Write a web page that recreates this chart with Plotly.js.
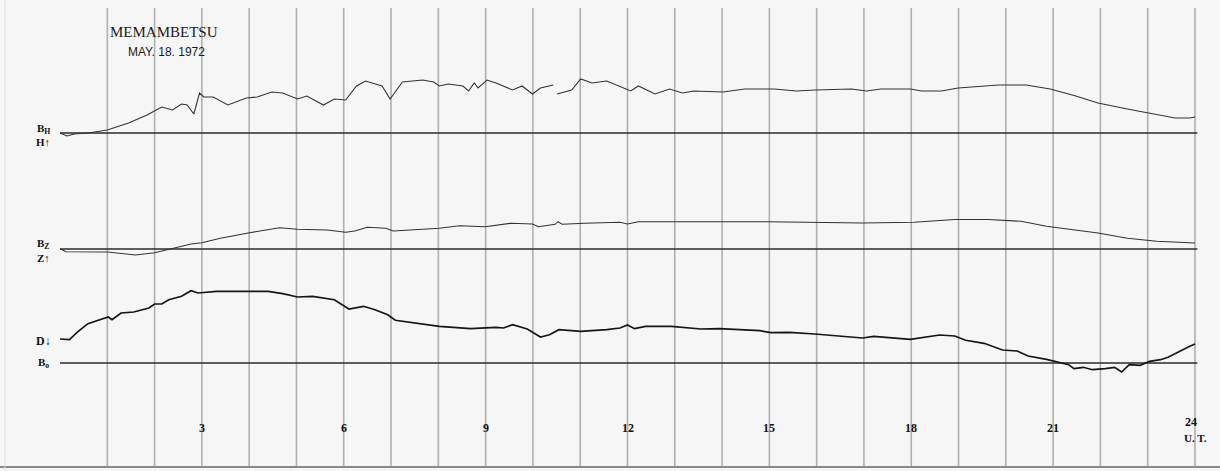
<!DOCTYPE html>
<html><head><meta charset="utf-8">
<script src="https://cdn.plot.ly/plotly-3.0.1.min.js"></script>
<style>html,body{margin:0;padding:0;background:#f6f6f6;}</style>
</head><body>
<div id="chart" style="width:1220px;height:471px"></div>
<script>
// Magnetogram, Memambetsu, 1972-05-18. Values are trace deflections above each baseline (chart mm-ish units) vs UT hour.
const hoursH = [0.0,0.15,0.3,0.6,1.0,1.45,1.84,2.0,2.15,2.38,2.57,2.69,2.83,2.95,3.04,3.24,3.55,3.94,4.17,4.48,4.71,5.02,5.22,5.57,5.8,6.04,6.27,6.46,6.81,6.98,7.24,7.67,7.9,8.02,8.21,8.52,8.64,8.76,8.84,9.03,9.22,9.57,9.77,9.99,10.16,10.43,10.47,10.51,10.82,11.01,11.25,11.56,11.87,12.07,12.23,12.58,12.89,13.16,13.4,14.02,14.48,15.1,15.57,15.96,16.74,17.05,17.36,17.98,18.22,18.64,18.99,19.46,19.85,20.43,20.94,21.48,21.95,22.57,23.04,23.58,23.89,24.0];
const valuesH = [0,-3,-1,0,3,10,18,22,26,23,29,28,19,40,36,36,28,35,36,41,40,34,37,28,34,33,47,52,47,34,51,53,51,47,49,47,42,50,45,53,50,43,47,39,45,48,null,39,43,54,50,52,46,42,47,39,44,40,42,41,44,44,42,43,44,42,44,44,42,42,45,47,48,48,44,37,30,24,20,15,15,16];

const hoursZ = [0.0,0.12,1.0,1.6,2.0,2.46,2.77,3.0,3.39,4.01,4.64,5.02,5.65,6.04,6.23,6.5,6.89,7.05,7.67,8.02,8.45,8.99,9.53,9.99,10.12,10.47,10.53,10.62,11.09,11.84,12.0,12.23,13.0,14.95,16.97,18.06,18.92,19.62,20.32,20.86,21.95,22.57,23.19,23.89,24.0];
const valuesZ = [0.5,-2.7,-3,-6,-3.7,1.3,5,6.3,10.7,16.3,21.3,19.7,19,16.7,18,21.7,20.7,18,20,20.7,23.3,22.3,25.7,25,22.3,24.7,27.3,24.7,25.7,26.7,25,27.3,27.3,27.3,26,26.7,29.5,29.5,27.7,22.7,16,10.7,7.7,6,6];

const hoursD = [0.0,0.2,0.36,0.59,1.02,1.1,1.29,1.56,1.88,2.0,2.15,2.3,2.57,2.77,2.92,3.08,3.31,4.01,4.4,4.71,5.02,5.34,5.8,6.11,6.42,6.66,6.93,7.09,7.43,8.02,8.68,9.22,9.38,9.57,9.88,10.16,10.35,10.55,11.01,11.56,11.84,12.0,12.15,12.38,12.93,13.55,13.94,14.8,15.03,15.42,15.96,16.97,17.21,17.98,18.6,18.92,19.15,19.54,19.93,20.24,20.47,20.86,21.33,21.44,21.64,21.83,22.1,22.3,22.45,22.61,22.84,23.04,23.27,23.43,23.89,24.0];
const valuesD = [24,23.3,30.7,39.3,46,43.3,50,51,55,59,59,63.3,66.7,72.3,70,71,71.7,71.7,71.7,69.3,66,66.7,63.3,54,56.7,53.3,48.3,42.7,40.7,36.7,34.3,35.7,35,38.3,34,26,28.3,33.3,31.7,33.3,35,38,34.3,36.7,36.7,34,34.3,32.3,30.3,30.7,29,25,26.7,23.7,28,27,22.7,19.7,13,12,7,3.7,-1.7,-5.7,-4.3,-6.7,-5.7,-4.3,-9,-1.7,-2.3,1.7,3.3,5.7,16.7,19];

const gridHours = [1,2,3,4,5,6,7,8,9,10,11,12,13,14,15,16,17,18,19,20,21,22,23,24];
const tickHours = [3,6,9,12,15,18,21,24];
const tickLabels = ['3','6','9','12','15','18','21','24'];

// layout geometry (pixel positions on the sheet)
const BASE = {H:133, Z:249, D:363};
const lineCol = '#2a2a2a';

function place(vals, base){ return vals.map(v => v === null ? null : base - v); }

const traces = [
  {x: hoursH, y: place(valuesH, BASE.H), mode:'lines', line:{color:'#333', width:1.1}, hoverinfo:'skip', connectgaps:false},
  {x: hoursZ, y: place(valuesZ, BASE.Z), mode:'lines', line:{color:'#333', width:1.1}, hoverinfo:'skip'},
  {x: hoursD, y: place(valuesD, BASE.D), mode:'lines', line:{color:'#151515', width:1.7}, hoverinfo:'skip'}
];

const shapes = [];
gridHours.forEach(h => shapes.push({type:'line', xref:'x', yref:'y', x0:h, x1:h, y0:8, y1:466,
  line:{color:'rgba(130,130,130,0.6)', width:1.6}, layer:'below'}));
Object.values(BASE).forEach(b => shapes.push({type:'line', xref:'x', yref:'y', x0:0, x1:24.05, y0:b, y1:b,
  line:{color:lineCol, width:1.5}, layer:'below'}));
shapes.push({type:'line', xref:'paper', yref:'y', x0:0, x1:1, y0:467, y1:467, line:{color:'#666', width:1.5}});
shapes.push({type:'line', xref:'paper', yref:'paper', x0:0.004, x1:0.004, y0:0, y1:1, line:{color:'#dcdcdc', width:1}});

const serif = 'Liberation Serif, DejaVu Serif, serif';
const annotations = [
  {text:'MEMAMBETSU', x:164, y:32, font:{family:serif, size:15, color:'#1a1a1a'}},
  {text:'MAY. 18. 1972', x:166, y:52, font:{family:'Liberation Sans Narrow, Liberation Sans, sans-serif', size:12, color:'#1a1a1a'}},
  {text:'<b>B<sub>H</sub></b>', x:43, y:129, font:{family:serif, size:11, color:'#111'}},
  {text:'<b>H↑</b>', x:43, y:142, font:{family:serif, size:11, color:'#111'}},
  {text:'<b>B<sub>Z</sub></b>', x:43, y:244, font:{family:serif, size:11, color:'#111'}},
  {text:'<b>Z↑</b>', x:43, y:258, font:{family:serif, size:11, color:'#111'}},
  {text:'<b>D↓</b>', x:43, y:341, font:{family:serif, size:12, color:'#111'}},
  {text:'<b>B<sub>o</sub></b>', x:43, y:363, font:{family:serif, size:11, color:'#111'}},
  {text:'<b>U. T.</b>', x:1195, y:438, font:{family:serif, size:11, color:'#111'}}
].map(a => Object.assign({xref:'paper', yref:'y', showarrow:false, xanchor:'center', yanchor:'middle'}, a,
  {x: a.x/1220}));

tickHours.forEach((h,i) => annotations.push({xref:'x', yref:'y', x: h === 24 ? 23.92 : h, y: h === 24 ? 422 : 428,
  text:'<b>'+tickLabels[i]+'</b>', showarrow:false, xanchor:'center', yanchor:'middle',
  font:{family:serif, size:12, color:'#111'}}));

const layout = {
  width:1220, height:471,
  margin:{l:0, r:0, t:0, b:0},
  paper_bgcolor:'#f6f6f6', plot_bgcolor:'#f6f6f6',
  showlegend:false,
  xaxis:{range:[-1.269, 24.529], visible:false, fixedrange:true},
  yaxis:{range:[471, 0], visible:false, fixedrange:true},
  shapes: shapes,
  annotations: annotations
};

Plotly.newPlot('chart', traces, layout, {staticPlot:true, displayModeBar:false});
</script>
</body></html>
